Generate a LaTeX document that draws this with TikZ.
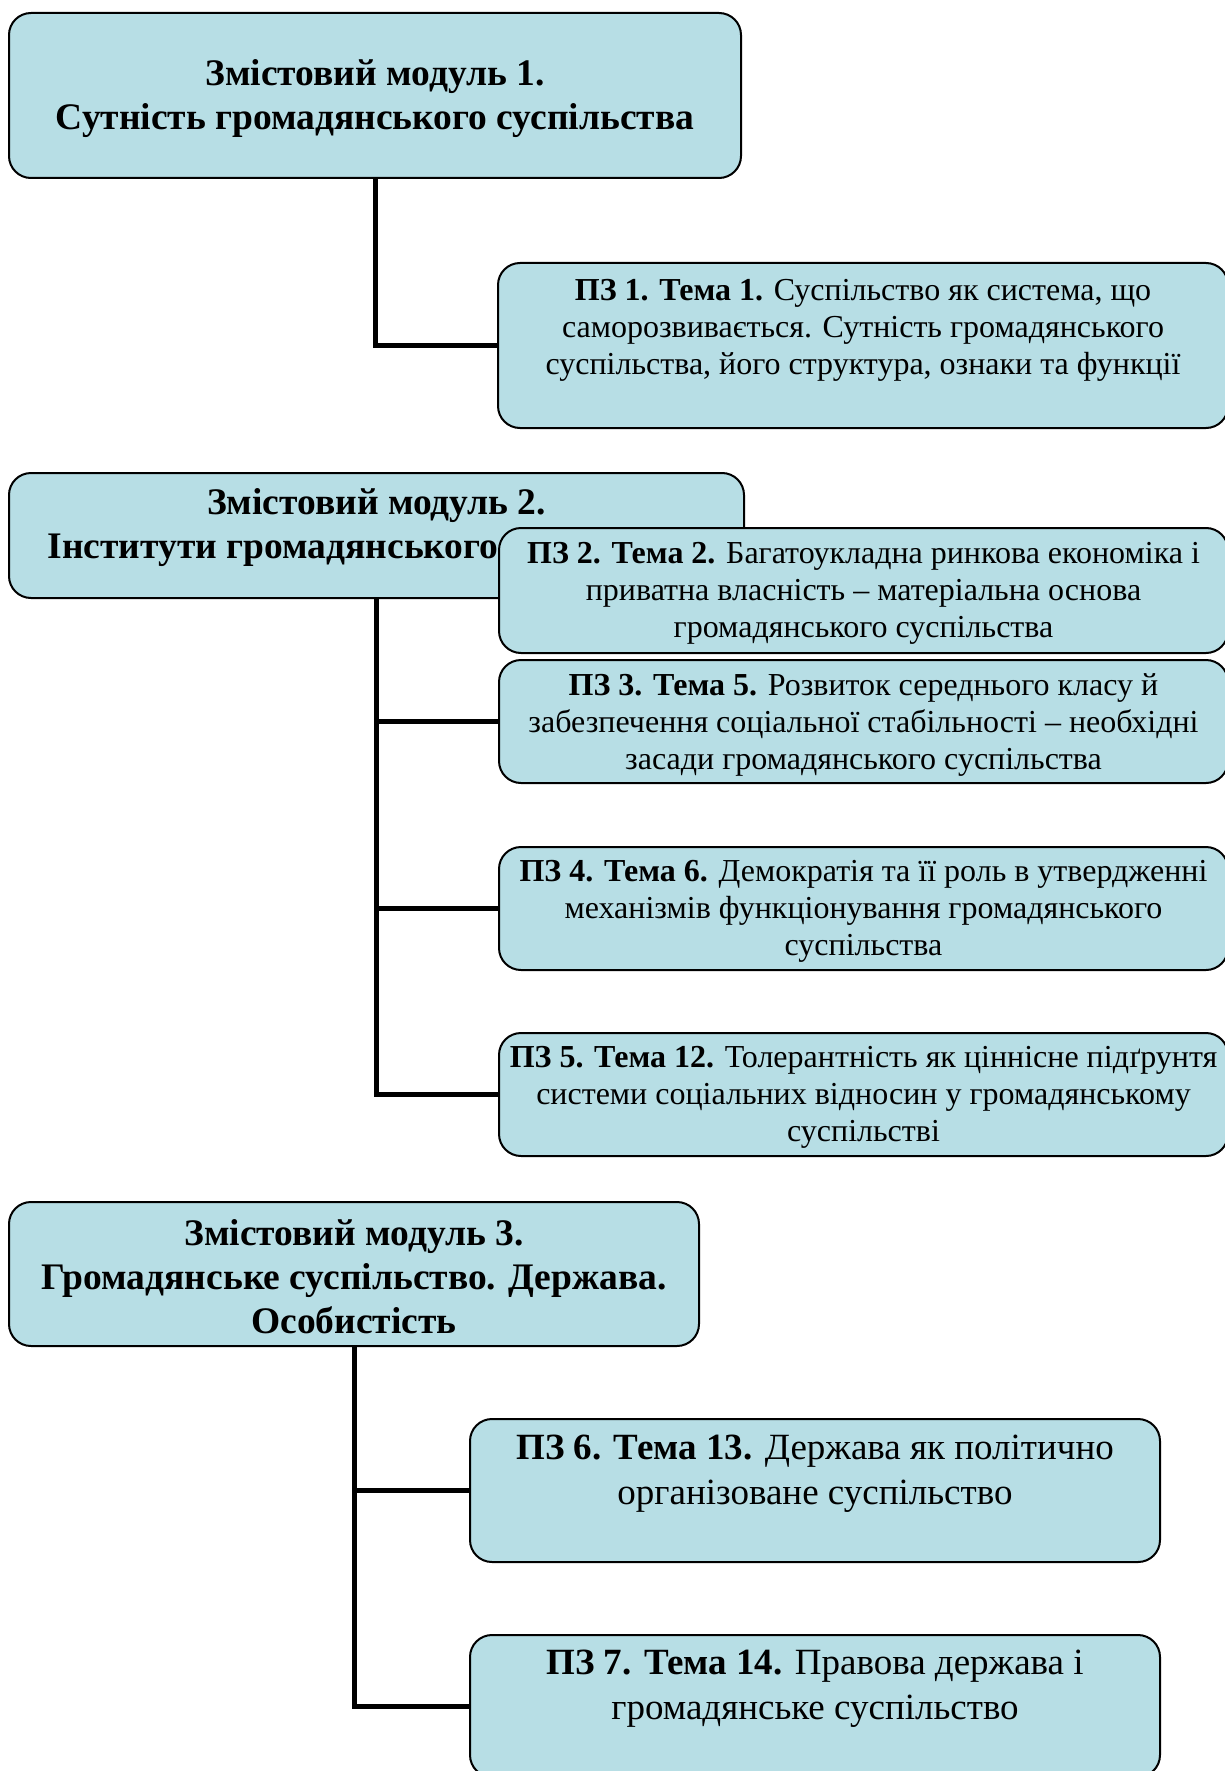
\documentclass[tikz,border=0pt]{standalone}
\usepackage{fontspec}
\setmainfont{Liberation Serif}
\definecolor{boxfill}{HTML}{B7DEE5}
\pgfdeclarelayer{background}
\pgfsetlayers{background,main}
\tikzset{
  box/.style={draw=black, line width=2pt, fill=boxfill, rounded corners=22pt,
    inner sep=0pt, anchor=north west},
  modtext/.style={align=center, inner sep=0pt, font=\fontsize{37.5}{44}\selectfont\bfseries},
  pztext/.style={align=center, inner sep=0pt, font=\fontsize{32}{37}\selectfont},
  bigtext/.style={align=center, inner sep=0pt, font=\fontsize{37}{45}\selectfont},
  conn/.style={draw=black, line width=5pt}
}
\begin{document}
\begin{tikzpicture}[x=1pt,y=-1pt]
\useasboundingbox (0,0) rectangle (1224,1771);
% module 1
\node[box, minimum width=732pt, minimum height=165pt] (m1) at (8,12) {};
\node[modtext] (m1t) at ([yshift=-3pt]m1.center) {Змістовий модуль 1.\\Сутність громадянського суспільства};
\node[box, minimum width=730pt, minimum height=165pt] (pz1) at (497,262) {};
\node[pztext] (pz1t) at ([yshift=15pt]pz1.center) {\textbf{ПЗ 1. Тема 1.} Суспільство як система, що\\саморозвивається. Сутність громадянського\\суспільства, його структура, ознаки та функції};
% module 2
\node[box, minimum width=735pt, minimum height=125pt] (m2) at (8,472) {};
\node[modtext] (m2t) at ([yshift=8pt]m2.center) {Змістовий модуль 2.\\Інститути громадянського\phantom{ суспільства}};
\node[box, minimum width=729pt, minimum height=125pt] (pz2) at (498,527) {};
\node[pztext] (pz2t) at ([yshift=-3pt]pz2.center) {\textbf{ПЗ 2. Тема 2.} Багатоукладна ринкова економіка і\\приватна власність – матеріальна основа\\громадянського суспільства};
\node[box, minimum width=729pt, minimum height=123pt] (pz3) at (498,659) {};
\node[pztext] (pz3t) at ([yshift=-3pt]pz3.center) {\textbf{ПЗ 3. Тема 5.} Розвиток середнього класу й\\забезпечення соціальної стабільності – необхідні\\засади громадянського суспільства};
\node[box, minimum width=729pt, minimum height=123pt] (pz4) at (498,846) {};
\node[pztext] (pz4t) at ([yshift=-3pt]pz4.center) {\textbf{ПЗ 4. Тема 6.} Демократія та її роль в утвердженні\\механізмів функціонування громадянського\\суспільства};
\node[box, minimum width=729pt, minimum height=123pt] (pz5) at (498,1032) {};
\node[pztext] (pz5t) at ([yshift=-3pt]pz5.center) {\textbf{ПЗ 5. Тема 12.} Толерантність як ціннісне підґрунтя\\системи соціальних відносин у громадянському\\суспільстві};
% module 3
\node[box, minimum width=690pt, minimum height=144pt] (m3) at (8,1201) {};
\node[modtext] (m3t) at ([yshift=-3pt]m3.center) {Змістовий модуль 3.\\Громадянське суспільство. Держава.\\Особистість};
\node[box, minimum width=690pt, minimum height=143pt] (pz6) at (469,1418) {};
\node[bigtext] (pz6t) at ([yshift=17pt]pz6.center) {\textbf{ПЗ 6. Тема 13.} Держава як політично\\організоване суспільство};
\node[box, minimum width=690pt, minimum height=142pt] (pz7) at (469,1634) {};
\node[bigtext] (pz7t) at ([yshift=17pt]pz7.center) {\textbf{ПЗ 7. Тема 14.} Правова держава і\\громадянське суспільство};
% connectors
\begin{pgfonlayer}{background}
\draw[conn] (m1.south) |- (pz1.west);
\draw[conn] (m2.south) |- (pz2.west);
\draw[conn] (m2.south) |- (pz3.west);
\draw[conn] (m2.south) |- (pz4.west);
\draw[conn] (m2.south) |- (pz5.west);
\draw[conn] (m3.south) |- (pz6.west);
\draw[conn] (m3.south) |- (pz7.west);
\end{pgfonlayer}
\end{tikzpicture}
\end{document}
